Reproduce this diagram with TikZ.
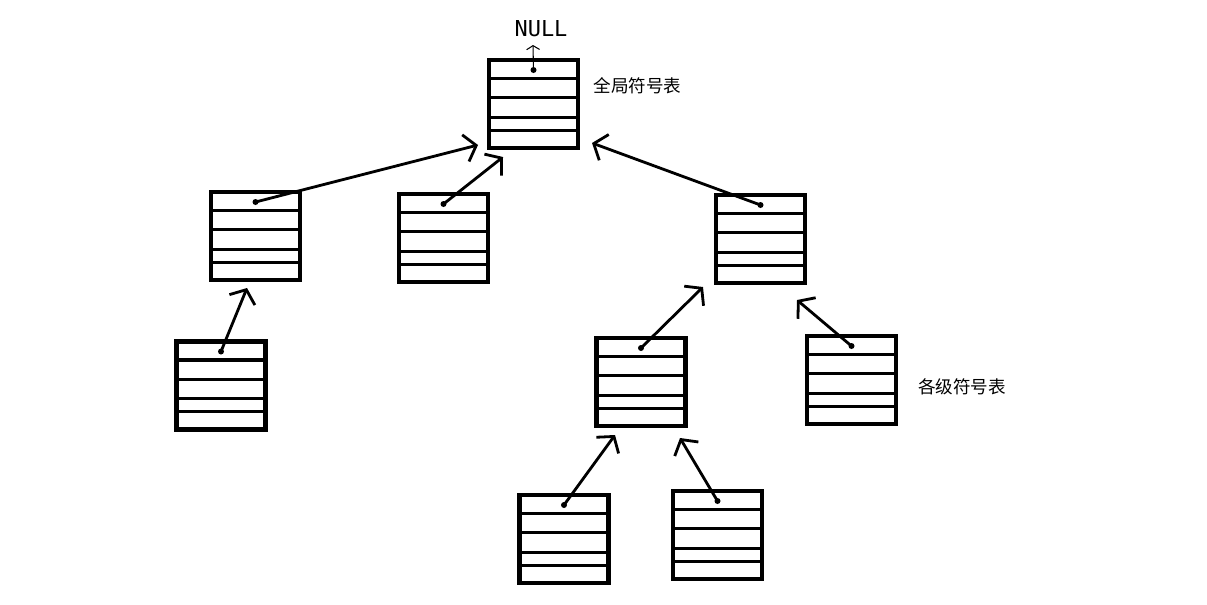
\documentclass[tikz,border=0pt]{standalone}
\usepackage{fontspec}
\newfontfamily\cjk{Noto Sans CJK SC}
\newfontfamily\monofnt{DejaVu Sans Mono}
\usetikzlibrary{arrows.meta}
\usetikzlibrary{calc}

\begin{document}
\begin{tikzpicture}[x=0.02cm,y=-0.02cm,
        symtab/.style={draw,line width=2.4pt,minimum width=1.78cm,minimum height=1.76cm,
          inner sep=0pt,outer sep=0pt,
          path picture={\foreach \f in {0.21,0.43,0.65,0.80}
            \draw[line width=1.8pt]
            ($(path picture bounding box.north west)!\f!(path picture bounding box.south west)$) --
            ($(path picture bounding box.north east)!\f!(path picture bounding box.south east)$);}},
        ptr/.style={circle,fill,inner sep=0pt,minimum size=0.12cm},
        link/.style={line width=1.6pt,-{Straight Barb[length=0.22cm,width=0.55cm,line width=1.6pt]}},
        lbl/.style={font=\cjk\fontsize{10}{12}\selectfont}]
        \useasboundingbox[fill=white] (0,0) rectangle (1207,605);
        % tables
        \node[symtab] (t0) at (533.5,104) {};
        \node[symtab] (a) at (255.5,236) {};
        \node[symtab] (b) at (443.5,238) {};
        \node[symtab] (c) at (760.5,239) {};
        \node[symtab] (d) at (221,385.5) {};
        \node[symtab] (e) at (641,382) {};
        \node[symtab] (f) at (851.5,380) {};
        \node[symtab] (g) at (564,539) {};
        \node[symtab] (h) at (717.5,535) {};
        \foreach \t in {t0,a,b,c,d,e,f,g,h} {
          \node[ptr] (\t-p) at ([yshift=-0.2cm]\t.north) {};
        }
        % where the pointers end
        \coordinate (null-in) at (533,45);
        \coordinate (t0-in1) at (478,145);
        \coordinate (t0-in2) at (503,157);
        \coordinate (t0-in3) at (592,143);
        \coordinate (a-in) at (247,288);
        \coordinate (c-in1) at (703,287);
        \coordinate (c-in2) at (797,300);
        \coordinate (e-in1) at (615,435);
        \coordinate (e-in2) at (680,438);
        \draw[line width=0.6pt,-{Straight Barb[length=0.08cm,width=0.26cm]}] (t0-p.center) -- (null-in);
        \draw[link] (a-p.center) -- (t0-in1);
        \draw[link] (b-p.center) -- (t0-in2);
        \draw[link] (c-p.center) -- (t0-in3);
        \draw[link] (d-p.center) -- (a-in);
        \draw[link] (e-p.center) -- (c-in1);
        \draw[link] (f-p.center) -- (c-in2);
        \draw[link] (g-p.center) -- (e-in1);
        \draw[link] (h-p.center) -- (e-in2);
        % texts
        \node[font=\monofnt\fontsize{12.5}{14}\selectfont] (null) at (541,29) {NULL};
        \node[lbl] (global) at (637.5,86) {全局符号表};
        \node[lbl] (levels) at (962,387) {各级符号表};
      \end{tikzpicture}
\end{document}
